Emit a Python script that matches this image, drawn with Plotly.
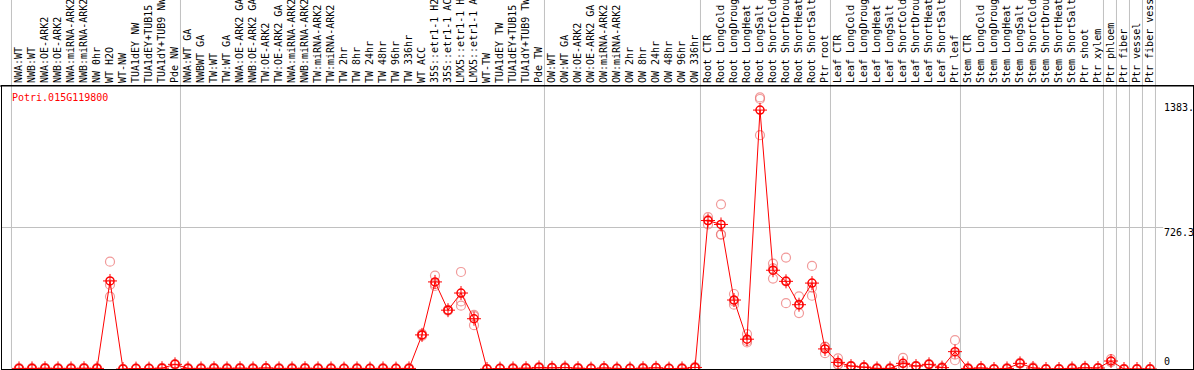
import plotly.graph_objects as go

categories = [
    "NWA:WT", "NWB:WT", "NWA:OE-ARK2", "NWB:OE-ARK2", "NWA:miRNA-ARK2", "NWB:miRNA-ARK2",
    "NW 0hr", "WT H2O", "WT-NW", "TUA1dEY NW", "TUA1dEY+TUB15 NW", "TUA1dY+TUB9 NW", "Pde NW",
    "NWA:WT GA", "NWBWT GA", "TW:WT", "TW:WT GA", "NWA:OE-ARK2 GA", "NWB:OE-ARK2 GA",
    "TW:OE-ARK2", "TW:OE-ARK2 GA", "NWA:miRNA-ARK2", "NWB:miRNA-ARK2", "TW:miRNA-ARK2",
    "TW:miRNA-ARK2", "TW 2hr", "TW 8hr", "TW 24hr", "TW 48hr", "TW 96hr", "TW 336hr",
    "WT ACC", "35S::etr1-1 H2O", "35S::etr1-1 ACC", "LMX5::etr1-1 H2O", "LMX5::etr1-1 ACC",
    "WT-TW", "TUA1dEY TW", "TUA1dEY+TUB15 TW", "TUA1dY+TUB9 TW", "Pde TW",
    "OW:WT", "OW:WT GA", "OW:OE-ARK2", "OW:OE-ARK2 GA", "OW:miRNA-ARK2", "OW:miRNA-ARK2",
    "OW 2hr", "OW 8hr", "OW 24hr", "OW 48hr", "OW 96hr", "OW 336hr",
    "Root CTR", "Root LongCold", "Root LongDrought", "Root LongHeat", "Root LongSalt",
    "Root ShortCold", "Root ShortDrought", "Root ShortHeat", "Root ShortSalt", "Ptr root",
    "Leaf CTR", "Leaf LongCold", "Leaf LongDrought", "Leaf LongHeat", "Leaf LongSalt",
    "Leaf ShortCold", "Leaf ShortDrought", "Leaf ShortHeat", "Leaf ShortSalt", "Ptr leaf",
    "Stem CTR", "Stem LongCold", "Stem LongDrought", "Stem LongHeat", "Stem LongSalt",
    "Stem ShortCold", "Stem ShortDrought", "Stem ShortHeat", "Stem ShortSalt", "Ptr shoot",
    "Ptr xylem", "Ptr phloem", "Ptr fiber", "Ptr vessel", "Ptr fiber vessel",
]

mean_values = [
    3, 3, 4, 3, 3, 4, 3, 452, 0, 2, 2, 4, 24,
    3, 3, 4, 3, 4, 3, 5, 3, 3, 4, 3, 3, 2, 3, 2, 3, 2, 3,
    175, 447, 302, 390, 258, 0, 2, 3, 4, 8,
    6, 7, 4, 2, 5, 2, 2, 4, 6, 2, 3, 8,
    762, 742, 354, 153, 1329, 507, 450, 330, 441, 103,
    34, 15, 10, 3, 3, 29, 15, 24, 7, 89,
    3, 5, 0, 3, 29, 5, 0, 0, 3, 6,
    5, 41, 0, 0, 0,
]

rep1_values = [
    3, 3, 4, 3, 3, 4, 3, 551, 0, 2, 2, 4, 24,
    3, 3, 4, 3, 4, 3, 5, 3, 3, 4, 3, 3, 2, 3, 2, 3, 2, 3,
    180, 479, 302, 498, 278, 0, 2, 3, 4, 8,
    6, 7, 4, 2, 5, 2, 2, 4, 6, 2, 3, 8,
    780, 845, 385, 179, 1394, 541, 572, 373, 529, 115,
    55, 15, 10, 3, 3, 57, 15, 24, 7, 148,
    3, 5, 0, 3, 31, 8, 0, 0, 3, 6,
    5, 51, 0, 0, 0,
]

rep2_values = [
    3, 3, 4, 3, 3, 4, 3, 433, 0, 2, 2, 4, 24,
    3, 3, 4, 3, 4, 3, 5, 3, 3, 4, 3, 3, 2, 3, 2, 3, 2, 3,
    170, 436, 300, 347, 225, 0, 2, 3, 4, 8,
    6, 7, 4, 2, 5, 2, 2, 4, 6, 2, 3, 8,
    742, 690, 330, 136, 1386, 464, 450, 287, 376, 81,
    25, 15, 10, 3, 3, 15, 15, 24, 7, 45,
    3, 5, 0, 3, 27, 3, 0, 0, 3, 6,
    5, 36, 0, 0, 0,
]

rep3_values = [
    3, 3, 4, 3, 3, 4, 3, 372, 0, 2, 2, 4, 24,
    3, 3, 4, 3, 4, 3, 5, 3, 3, 4, 3, 3, 2, 3, 2, 3, 2, 3,
    175, 426, 304, 325, 271, 0, 2, 3, 4, 8,
    6, 7, 4, 2, 5, 2, 2, 4, 6, 2, 3, 8,
    764, 691, 347, 144, 1200, 516, 338, 330, 418, 113,
    22, 15, 10, 3, 3, 15, 15, 24, 7, 74,
    3, 5, 0, 3, 29, 4, 0, 0, 3, 6,
    5, 36, 0, 0, 0,
]

# group separators fall after these category indices
group_ends = [-1, 12, 40, 52, 62, 72, 83, 84, 85, 86, 87]

gene_name = "Potri.015G119800"
y_tick_labels = ["0", "726.3", "1383."]
y_max = 1452.6

x_idx = list(range(len(categories)))
RED = "#ff0000"
PINK = "rgba(236,120,120,0.75)"
MONO = "DejaVu Sans Mono"

fig = go.Figure()

for reps in (rep1_values, rep2_values, rep3_values):
    fig.add_trace(go.Scatter(
        x=x_idx, y=reps, mode="markers", showlegend=False, hoverinfo="skip",
        marker=dict(symbol="circle-open", size=9, color=PINK, line=dict(width=1.2, color=PINK)),
    ))

fig.add_trace(go.Scatter(
    x=x_idx, y=mean_values, mode="lines", showlegend=False,
    line=dict(color=RED, width=1),
))
fig.add_trace(go.Scatter(
    x=x_idx, y=mean_values, mode="markers", showlegend=False, hoverinfo="skip",
    marker=dict(symbol="cross-thin-open", size=10, color=RED, line=dict(width=1, color=RED)),
))
fig.add_trace(go.Scatter(
    x=x_idx, y=mean_values, mode="markers", showlegend=False,
    marker=dict(symbol="circle-open", size=8, color=RED, line=dict(width=1.5, color=RED)),
))

shapes = []
for g in group_ends:
    xv = g + 0.42
    shapes.append(dict(type="line", xref="x", yref="paper", x0=xv, x1=xv, y0=0, y1=1.32,
                       line=dict(color="#c0c0c0", width=1), layer="below"))
shapes.append(dict(type="line", xref="paper", yref="y", x0=0, x1=0.975, y0=y_max / 2, y1=y_max / 2,
                   line=dict(color="#c0c0c0", width=1), layer="below"))
shapes.append(dict(type="line", xref="paper", yref="paper", x0=-0.01, x1=1.01, y0=1, y1=1,
                   line=dict(color="black", width=1)))

annotations = [
    dict(text=gene_name, xref="paper", yref="paper", x=(10 - 2) / 1191, y=(369 - 97) / 283,
         xanchor="left", yanchor="middle", showarrow=False, font=dict(family=MONO, size=10, color=RED)),
]
for txt, py in zip(y_tick_labels, [361, 232, 107]):
    annotations.append(dict(text=txt, xref="paper", yref="paper", x=(1162 - 2) / 1191, y=(369 - py) / 283,
                            xanchor="left", yanchor="middle", showarrow=False,
                            font=dict(family=MONO, size=10, color="black")))

x0 = -17 / 13
fig.update_layout(
    width=1194, height=370,
    margin=dict(l=2, r=1, t=86, b=1, pad=0),
    paper_bgcolor="white", plot_bgcolor="white",
    shapes=shapes, annotations=annotations,
    xaxis=dict(
        side="top", range=[x0, x0 + 1191 / 13], tickmode="array", tickvals=x_idx, ticktext=categories,
        tickangle=-90, tickfont=dict(family=MONO, size=10, color="black"),
        showgrid=False, zeroline=False, showline=True, mirror=True, linecolor="black", linewidth=1,
        ticks="", automargin=False,
    ),
    yaxis=dict(
        range=[0, y_max], showticklabels=False, showgrid=False, zeroline=False,
        showline=True, mirror=True, linecolor="black", linewidth=1, automargin=False,
    ),
)

fig.write_html("out.html", config={"displayModeBar": False},
               post_script="document.body.style.margin='0px';")
